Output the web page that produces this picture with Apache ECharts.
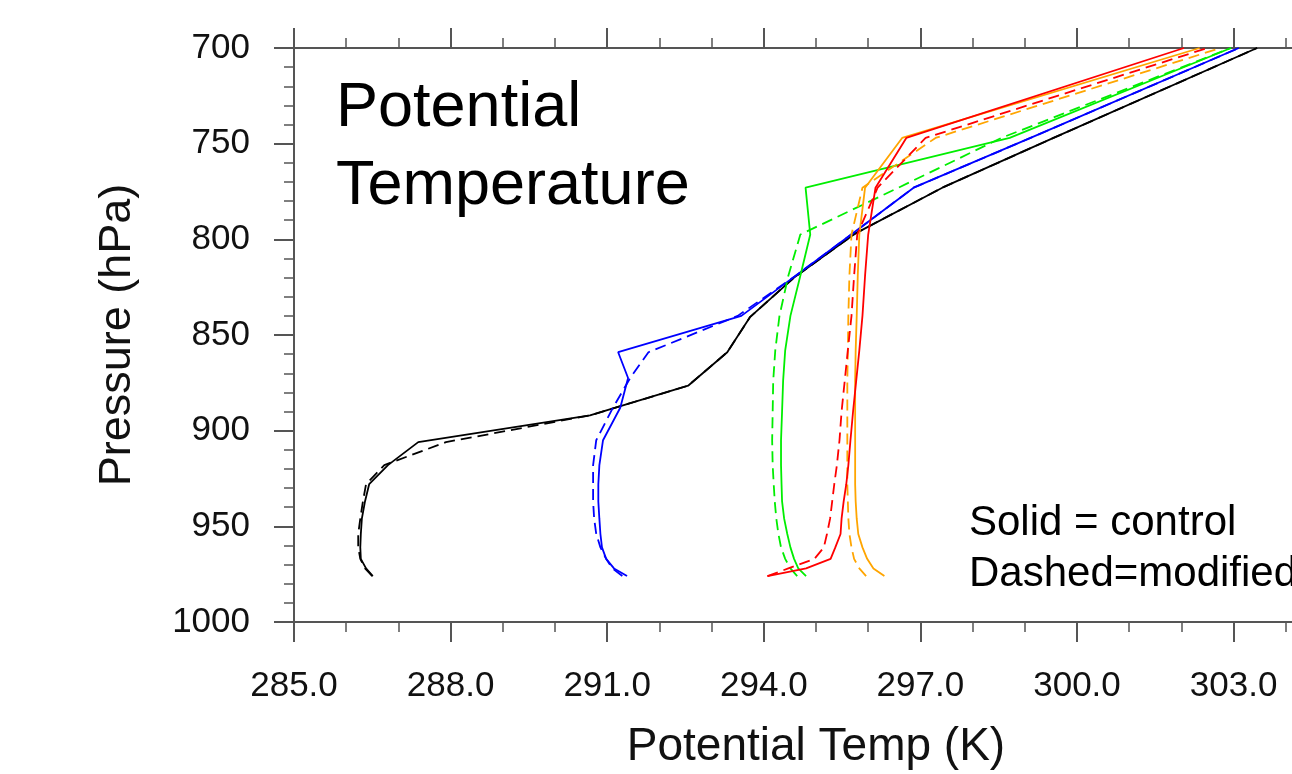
<!DOCTYPE html>
<html>
<head>
<meta charset="utf-8">
<script src="https://cdn.jsdelivr.net/npm/echarts@6/dist/echarts.min.js"></script>
<style>
html,body{margin:0;padding:0;background:#fff;}
#chart{width:1292px;height:774px;}
</style>
</head>
<body>
<div id="chart"></div>
<script>
// Pressure levels (hPa), bottom to top, per profile
const pressureBlack = [976, 972, 967, 961, 954, 946, 937, 928, 918, 906, 892, 876.5, 859, 840.5, 820, 797, 773, 747, 700];
const pressureBlue  = [976, 972, 967, 961, 954, 946, 937, 928, 918, 905, 888, 872.5, 859, 840, 820, 797, 773, 747, 700];
const pressureGreen = [976, 972, 967, 961, 954, 946, 937, 928, 918, 905, 890, 874, 858, 840, 819, 797.5, 773, 747, 700];
const pressureRed   = [976, 972, 967, 961, 954, 946, 937, 928, 918, 905, 890, 874, 858, 840, 819, 797.5, 773, 747, 700];
const pressureOrange= [976, 972, 967, 961, 954, 946, 937, 928, 918, 905, 890, 874, 858, 840, 819, 797.5, 773, 747, 700];

// Potential temperature (K): control (solid) and modified (dashed)
const blackControl  = [286.51, 286.38, 286.28, 286.27, 286.28, 286.30, 286.36, 286.44, 286.80, 287.38, 290.67, 292.55, 293.30, 293.74, 294.58, 295.75, 297.42, 299.55, 303.45];
const blackModified = [286.50, 286.36, 286.27, 286.23, 286.23, 286.27, 286.32, 286.38, 286.73, 287.91, 290.67, 292.55, 293.30, 293.74, 294.58, 295.75, 297.42, 299.55, 303.45];
const blueControl   = [291.38, 291.13, 290.98, 290.90, 290.87, 290.85, 290.83, 290.83, 290.85, 290.92, 291.25, 291.40, 291.21, 293.57, 294.56, 295.70, 296.87, 299.11, 303.10];
const blueModified  = [291.29, 291.10, 290.98, 290.87, 290.79, 290.75, 290.73, 290.73, 290.73, 290.79, 291.11, 291.44, 291.79, 293.50, 294.56, 295.70, 296.87, 299.11, 303.10];
const greenControl  = [294.81, 294.66, 294.58, 294.51, 294.45, 294.39, 294.35, 294.34, 294.33, 294.33, 294.35, 294.37, 294.41, 294.51, 294.70, 294.89, 294.80, 298.71, 302.95];
const greenModified = [294.64, 294.51, 294.41, 294.33, 294.28, 294.24, 294.21, 294.19, 294.17, 294.16, 294.17, 294.18, 294.22, 294.30, 294.47, 294.70, 296.58, 298.55, 302.95];
const redControl    = [294.07, 294.81, 295.28, 295.37, 295.47, 295.49, 295.53, 295.58, 295.62, 295.66, 295.71, 295.77, 295.83, 295.89, 295.94, 296.00, 296.14, 296.73, 302.05];
const redModified   = [294.07, 294.47, 294.97, 295.15, 295.21, 295.27, 295.31, 295.35, 295.40, 295.45, 295.49, 295.55, 295.61, 295.68, 295.73, 295.79, 296.18, 297.10, 302.50];
const orangeControl = [296.31, 296.10, 295.98, 295.89, 295.81, 295.78, 295.76, 295.75, 295.75, 295.75, 295.75, 295.75, 295.76, 295.78, 295.80, 295.83, 295.94, 296.65, 302.35];
const orangeModified= [295.96, 295.83, 295.73, 295.68, 295.64, 295.62, 295.61, 295.60, 295.60, 295.60, 295.60, 295.60, 295.61, 295.62, 295.64, 295.68, 295.89, 297.29, 302.75];

const xTickValues = [285, 288, 291, 294, 297, 300, 303];
const yTickValues = [700, 750, 800, 850, 900, 950, 1000];

const profiles = [
  {name: 'black control',  t: blackControl,  p: pressureBlack,  color: '#000000', dashed: false},
  {name: 'black modified', t: blackModified, p: pressureBlack,  color: '#000000', dashed: true},
  {name: 'blue control',   t: blueControl,   p: pressureBlue,   color: '#0000ff', dashed: false},
  {name: 'blue modified',  t: blueModified,  p: pressureBlue,   color: '#0000ff', dashed: true},
  {name: 'green control',  t: greenControl,  p: pressureGreen,  color: '#00ee00', dashed: false},
  {name: 'green modified', t: greenModified, p: pressureGreen,  color: '#00ee00', dashed: true},
  {name: 'orange control', t: orangeControl, p: pressureOrange, color: '#ffa500', dashed: false},
  {name: 'orange modified',t: orangeModified,p: pressureOrange, color: '#ffa500', dashed: true},
  {name: 'red control',    t: redControl,    p: pressureRed,    color: '#ff0000', dashed: false},
  {name: 'red modified',   t: redModified,   p: pressureRed,    color: '#ff0000', dashed: true}
];

const FONT = "'Liberation Sans', Arial, Helvetica, sans-serif";
const axisColor = '#555555';

const chart = echarts.init(document.getElementById('chart'), null, {renderer: 'canvas'});

const baseX = {
  type: 'value', min: 285, max: 305, interval: 3,
  axisLine: {show: true, onZero: false, lineStyle: {color: axisColor, width: 2}},
  axisTick: {show: true, inside: false, length: 20, lineStyle: {color: axisColor, width: 2}},
  minorTick: {show: true, splitNumber: 3, length: 10, lineStyle: {color: axisColor, width: 1.5}},
  splitLine: {show: false}
};
const baseY = {
  type: 'value', min: 700, max: 1000, interval: 50, inverse: true,
  axisLine: {show: true, onZero: false, lineStyle: {color: axisColor, width: 2}},
  axisTick: {show: true, inside: false, length: 20, lineStyle: {color: axisColor, width: 2}},
  minorTick: {show: true, splitNumber: 5, length: 10, lineStyle: {color: axisColor, width: 1.5}},
  splitLine: {show: false}
};

const option = {
  animation: false,
  backgroundColor: '#ffffff',
  grid: {left: 294, top: 48, width: 1044, height: 574, containLabel: false, outerBoundsMode: 'none'},
  xAxis: [
    Object.assign({}, baseX, {
      position: 'bottom',
      name: 'Potential Temp (K)', nameLocation: 'middle', nameGap: 102,
      nameTextStyle: {fontFamily: FONT, fontSize: 46, color: '#111'},
      axisLabel: {show: true, margin: 47, fontFamily: FONT, fontSize: 35, color: '#111',
        showMaxLabel: false,
        formatter: v => xTickValues.includes(v) ? v.toFixed(1) : ''}
    }),
    Object.assign({}, baseX, {position: 'top', axisLabel: {show: false}})
  ],
  yAxis: [
    Object.assign({}, baseY, {
      position: 'left',
      name: 'Pressure (hPa)', nameLocation: 'middle', nameGap: 154, nameRotate: 90,
      nameTextStyle: {fontFamily: FONT, fontSize: 45, color: '#111'},
      axisLabel: {show: true, margin: 44, fontFamily: FONT, fontSize: 35, color: '#111',
        formatter: v => yTickValues.includes(v) ? String(v) : ''}
    }),
    Object.assign({}, baseY, {position: 'right', axisLabel: {show: false}})
  ],
  graphic: [
    {type: 'text', left: 336, top: 70, silent: true,
     style: {text: 'Potential\nTemperature', font: "63px 'Liberation Sans', Arial, sans-serif", lineHeight: 78, fill: '#000'}},
    {type: 'text', left: 969, top: 498, silent: true,
     style: {text: 'Solid = control\nDashed=modified', font: "42px 'Liberation Sans', Arial, sans-serif", lineHeight: 51, fill: '#000'}}
  ],
  series: profiles.map(pr => ({
    name: pr.name,
    type: 'line',
    xAxisIndex: 0, yAxisIndex: 0,
    data: pr.t.map((t, i) => [t, pr.p[i]]),
    showSymbol: false, symbol: 'none',
    smooth: false,
    clip: false,
    lineStyle: {color: pr.color, width: 1.8, type: pr.dashed ? [11, 6] : 'solid'},
    emphasis: {disabled: true}
  }))
};
chart.setOption(option);
</script>
</body>
</html>
